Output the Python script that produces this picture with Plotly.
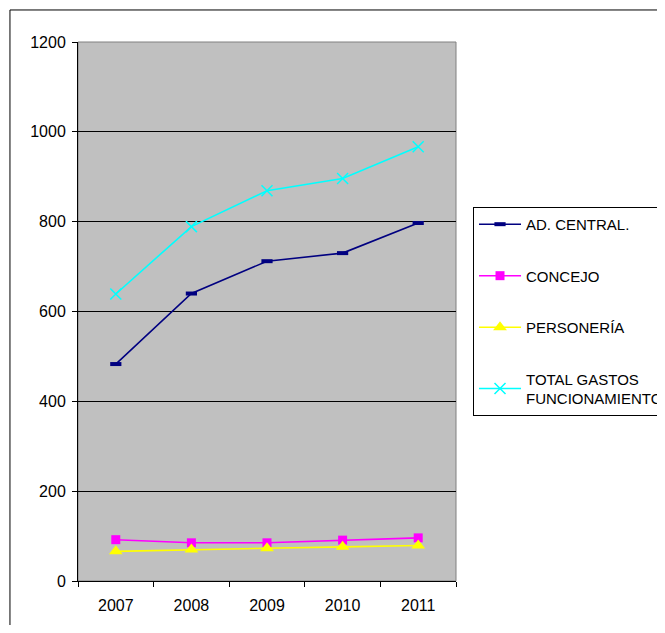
import plotly.graph_objects as go

YEARS = ["2007", "2008", "2009", "2010", "2011"]

AD_CENTRAL = [483, 640, 712, 730, 797]
CONCEJO = [92, 85, 85, 91, 96]
PERSONERIA = [66, 70, 73, 76, 79]
TOTAL_GASTOS = [639, 789, 869, 896, 967]

Y_TICKS = [0, 200, 400, 600, 800, 1000, 1200]

SERIES = [
    ("AD. CENTRAL.", AD_CENTRAL, "#000080", dict(symbol="line-ew-open", size=8, line=dict(width=4, color="#000080"))),
    ("CONCEJO", CONCEJO, "#FF00FF", dict(symbol="square", size=9, color="#FF00FF")),
    ("PERSONERÍA", PERSONERIA, "#FFFF00", dict(symbol="triangle-up", size=12, color="#FFFF00")),
    ("TOTAL GASTOS<br>FUNCIONAMIENTO", TOTAL_GASTOS, "#00FFFF", dict(symbol="x-thin-open", size=11, line=dict(width=1.5, color="#00FFFF"))),
]

fig = go.Figure()

for i, (name, values, color, marker) in enumerate(SERIES):
    fig.add_trace(go.Scatter(
        x=YEARS,
        y=values,
        mode="lines+markers",
        name=name,
        legendgroup=f"g{i}",
        line=dict(color=color, width=1.6),
        marker=marker,
    ))

# outer chart border (left/top visible, right/bottom run off the page)
fig.add_shape(
    type="rect", xref="paper", yref="paper",
    x0=-0.18, y0=-0.2, x1=1.65, y1=1.0594,
    line=dict(color="black", width=1), fillcolor="rgba(0,0,0,0)",
    layer="below",
)

# page body has an 8px margin, so the figure is offset to compensate
fig.update_layout(
    width=657,
    height=617,
    margin=dict(l=70, r=209, t=34, b=44, autoexpand=False),
    paper_bgcolor="white",
    plot_bgcolor="#C0C0C0",
    font=dict(family="Liberation Sans, Arial, sans-serif", size=16, color="black"),
    showlegend=True,
    legend=dict(
        x=1.045, y=0.694, xanchor="left", yanchor="top",
        bordercolor="black", borderwidth=1, bgcolor="white",
        tracegroupgap=29,
        traceorder="grouped",
        itemwidth=42,
        font=dict(size=15),
    ),
    xaxis=dict(
        type="category",
        range=[-0.5, 4.5],
        showgrid=False,
        showline=True, linecolor="black", linewidth=1,
        ticks="outside", ticklen=5, tickcolor="black",
        tickson="boundaries",
        ticklabelstandoff=10,
        zeroline=False,
    ),
    yaxis=dict(
        range=[0, 1200],
        tickvals=Y_TICKS,
        showgrid=True, gridcolor="black", gridwidth=1,
        showline=True, linecolor="black", linewidth=1,
        ticks="outside", ticklen=5, tickcolor="black",
        ticklabelstandoff=3,
        zeroline=False,
    ),
)

# gray plot-area border on top/right
fig.add_shape(
    type="rect", xref="paper", yref="paper",
    x0=0, y0=0, x1=1, y1=1,
    line=dict(color="#808080", width=1), layer="below",
)

fig.write_html("out.html")
